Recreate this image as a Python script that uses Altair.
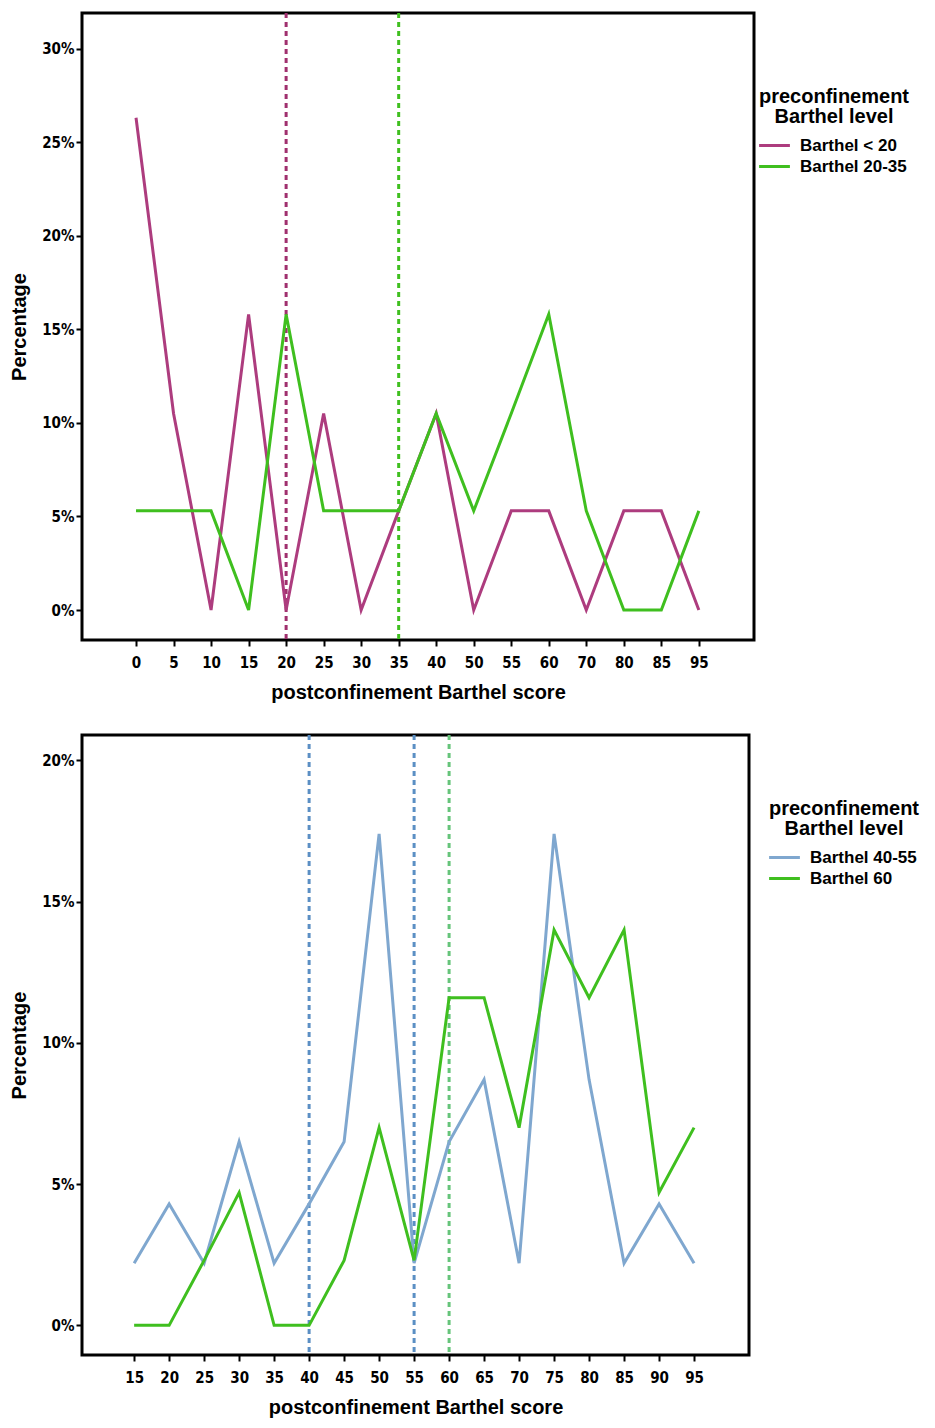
import altair as alt
import pandas as pd

# ---- top panel data ----
top_scores = [0, 5, 10, 15, 20, 25, 30, 35, 40, 50, 55, 60, 70, 80, 85, 95]
top_lt20 = [26.3, 10.5, 0, 15.8, 0, 10.5, 0, 5.3, 10.5, 0, 5.3, 5.3, 0, 5.3, 5.3, 0]
top_20_35 = [5.3, 5.3, 5.3, 0, 15.8, 5.3, 5.3, 5.3, 10.5, 5.3, 10.5, 15.8, 5.3, 0, 0, 5.3]
top_groups = ["Barthel < 20", "Barthel 20-35"]
top_colors = ["#ad3c7e", "#3fbf1f"]
top_medians = [20, 35]
top_median_colors = ["#a0306e", "#3fbf1f"]

# ---- bottom panel data ----
bot_scores = [15, 20, 25, 30, 35, 40, 45, 50, 55, 60, 65, 70, 75, 80, 85, 90, 95]
bot_40_55 = [2.2, 4.3, 2.2, 6.5, 2.2, 4.3, 6.5, 17.4, 2.2, 6.5, 8.7, 2.2, 17.4, 8.7, 2.2, 4.3, 2.2]
bot_60 = [0, 0, 2.3, 4.7, 0, 0, 2.3, 7.0, 2.3, 11.6, 11.6, 7.0, 14.0, 11.6, 14.0, 4.7, 7.0]
bot_groups = ["Barthel 40-55", "Barthel 60"]
bot_colors = ["#7fa7cf", "#3fbf1f"]
bot_medians = [40, 55, 60]
bot_median_colors = ["#5b8fc4", "#5b8fc4", "#66c47a"]

LAB_FONT = "Liberation Sans Narrow, DejaVu Sans Condensed, Arial Narrow, sans-serif"
TXT_FONT = "Liberation Sans, Arial, sans-serif"


def panel(scores, series, groups, colors, medians, med_colors, ydom, yticks,
          width, height, pad_l, pad_r, leg_x, leg_y):
    rows = []
    for g, vals in zip(groups, series):
        for i, (s, v) in enumerate(zip(scores, vals)):
            rows.append({"pos": i, "score": s, "pct": v, "group": g})
    df = pd.DataFrame(rows)
    mdf = pd.DataFrame({"pos": [scores.index(m) for m in medians], "c": med_colors})
    n = len(scores)
    label_arr = "[" + ",".join("'%d'" % s for s in scores) + "]"

    xscale = alt.Scale(domain=[-pad_l, n - 1 + pad_r], nice=False, zero=False)
    xaxis = alt.Axis(title="postconfinement Barthel score",
                     values=list(range(n)),
                     labelExpr=label_arr + "[round(datum.value)]",
                     labelFont=LAB_FONT, labelFontSize=15,
                     labelFontWeight="bold", labelColor="black",
                     labelAngle=0, labelPadding=9, labelFlush=False,
                     titleFont=TXT_FONT, titleFontSize=20,
                     titleFontWeight="bold", titleColor="black", titlePadding=12,
                     domain=False, ticks=True, tickSize=6, tickWidth=2,
                     tickColor="black", grid=False)
    yaxis = alt.Axis(title="Percentage", values=yticks,
                     labelExpr="datum.value + '%'", labelFont=LAB_FONT,
                     labelFontSize=15, labelFontWeight="bold", labelColor="black",
                     titleFont=TXT_FONT, titleFontSize=20, titleFontWeight="bold",
                     titleColor="black", titlePadding=12, domain=False,
                     ticks=True, tickSize=6, tickWidth=2, tickColor="black",
                     grid=False, labelPadding=2, labelFlush=False)

    lines = alt.Chart(df).mark_line(strokeWidth=3, strokeJoin="miter").encode(
        x=alt.X("pos:Q", scale=xscale, axis=xaxis),
        y=alt.Y("pct:Q", scale=alt.Scale(domain=ydom, nice=False, zero=False),
                axis=yaxis),
        color=alt.Color("group:N",
                        scale=alt.Scale(domain=groups, range=colors),
                        legend=alt.Legend(
                            title=["preconfinement", "Barthel level"],
                            orient="none", legendX=width + leg_x, legendY=leg_y,
                            titleFont=TXT_FONT, titleFontSize=20,
                            titleFontWeight="bold", titleColor="black",
                            titleAlign="center", titleAnchor="middle",
                            titleLimit=300, titlePadding=6, titleLineHeight=20,
                            labelFont=TXT_FONT, labelFontSize=17,
                            labelFontWeight="bold", labelColor="black",
                            symbolType="M-1.4,0H1.4", symbolStrokeWidth=3,
                            symbolSize=484, rowPadding=0, labelOffset=13)),
        order="pos:Q",
    )
    rules = alt.Chart(mdf).mark_rule(strokeWidth=3, strokeDash=[5, 4]).encode(
        x=alt.X("pos:Q", scale=xscale),
        color=alt.Color("c:N", scale=None),
    )
    return alt.layer(rules, lines).properties(width=width, height=height)


top = panel(top_scores, [top_lt20, top_20_35], top_groups, top_colors,
            top_medians, top_median_colors, [-1.6, 31.9],
            [0, 5, 10, 15, 20, 25, 30], 672, 627, 1.44, 1.47, 5, 74)
bot = panel(bot_scores, [bot_40_55, bot_60], bot_groups, bot_colors,
            bot_medians, bot_median_colors, [-1.05, 20.9],
            [0, 5, 10, 15, 20], 667, 620, 1.49, 1.57, 20, 64)

chart = alt.vconcat(top, bot, spacing=28).resolve_scale(
    color="independent", x="independent", y="independent"
).configure(
    background="white", padding={"left": 0, "top": 2, "right": 0, "bottom": 0}
).configure_view(stroke="black", strokeWidth=3)

chart.save("out.html", embed_options={"renderer": "svg", "actions": False})
